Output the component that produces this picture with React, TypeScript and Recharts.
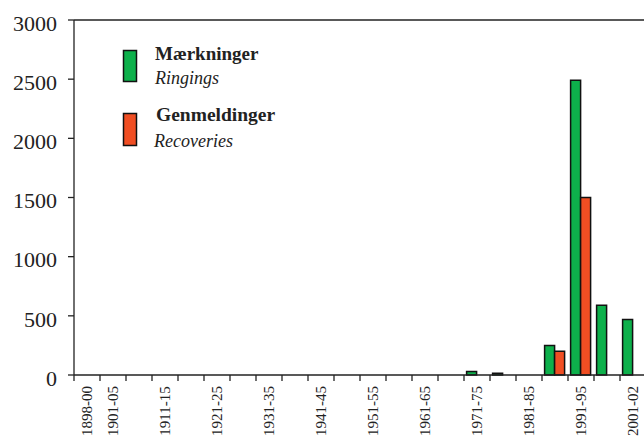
import { BarChart, Bar, XAxis, YAxis, ReferenceLine } from "recharts";

// 5-year periods, first and last are short
const periods = [
  "1898-00", "1901-05", "1906-10", "1911-15", "1916-20", "1921-25", "1926-30",
  "1931-35", "1936-40", "1941-45", "1946-50", "1951-55", "1956-60", "1961-65",
  "1966-70", "1971-75", "1976-80", "1981-85", "1986-90", "1991-95", "1996-00", "2001-02",
];
const ringings = [0, 0, 0, 0, 0, 0, 0, 0, 0, 0, 0, 0, 0, 0, 0, 30, 15, 0, 250, 2490, 590, 470];
const recoveries = [0, 0, 0, 0, 0, 0, 0, 0, 0, 0, 0, 0, 0, 0, 0, 0, 0, 0, 200, 1500, 0, 0];
const yTicks = [0, 500, 1000, 1500, 2000, 2500, 3000];

const data = periods.map((period, i) => ({ period, ringings: ringings[i], recoveries: recoveries[i] }));

const W = 660;
const H = 439;
const MARGIN = { top: 20, right: 14, bottom: 0, left: 0 };
const Y_WIDTH = 74;
const X_HEIGHT = 64;
const BAND = (W - MARGIN.left - MARGIN.right - Y_WIDTH) / periods.length;

const FONT = "Liberation Serif";
const INK = "#222";
const GREEN = "#0db04b";
const RED = "#f04e23";

function PeriodTick(props: any) {
  const { x, y, index, payload } = props;
  const showLabel = index === 0 || index % 2 === 1;
  const left = x - BAND / 2;
  return (
    <g>
      <line x1={left} y1={y} x2={left} y2={y + 6} stroke={INK} strokeWidth={1.3} />
      {index === periods.length - 1 && (
        <line x1={left + BAND} y1={y} x2={left + BAND} y2={y + 6} stroke={INK} strokeWidth={1.3} />
      )}
      {showLabel && (
        <text
          transform={`translate(${x},${y + 36}) rotate(-90)`}
          x={0}
          y={0}
          dy="0.35em"
          textAnchor="middle"
          style={{ fontFamily: FONT, fontSize: 15, fill: INK }}
        >
          {payload.value}
        </text>
      )}
    </g>
  );
}

function CountTick(props: any) {
  const { x, y, payload } = props;
  return (
    <text x={x} y={y + 3} dy="0.35em" textAnchor="end" style={{ fontFamily: FONT, fontSize: 22, fill: INK }}>
      {payload.value}
    </text>
  );
}

function LegendBox() {
  const t = { fontFamily: FONT, fontSize: 19, fill: INK };
  return (
    <svg width={300} height={160} style={{ position: "absolute", left: 0, top: 0 }}>
      <rect x={123.5} y={50.5} width={13} height={31} fill={GREEN} stroke="#111" strokeWidth={1.5} />
      <text x={155} y={60} style={{ ...t, fontWeight: "bold" }}>Mærkninger</text>
      <text x={155} y={84} style={{ ...t, fontSize: 18, fontStyle: "italic" }}>Ringings</text>
      <rect x={123.5} y={113.5} width={13} height={32} fill={RED} stroke="#111" strokeWidth={1.5} />
      <text x={156} y={121} style={{ ...t, fontSize: 19.5, fontWeight: "bold" }}>Genmeldinger</text>
      <text x={154} y={147} style={{ ...t, fontSize: 18, fontStyle: "italic" }}>Recoveries</text>
    </svg>
  );
}

export default function App() {
  return (
    <div style={{ position: "absolute", left: 0, top: 0, width: 644, height: 439, overflow: "hidden", background: "#fff" }}>
      <BarChart width={W} height={H} data={data} margin={MARGIN} barCategoryGap="10%" barGap={0}>
        <XAxis
          dataKey="period"
          height={X_HEIGHT}
          interval={0}
          tickSize={0}
          tickMargin={0}
          tickLine={false}
          axisLine={{ stroke: INK, strokeWidth: 1.3 }}
          tick={<PeriodTick />}
        />
        <YAxis
          width={Y_WIDTH}
          domain={[0, 3000]}
          ticks={yTicks}
          interval={0}
          tickSize={6}
          tickMargin={11}
          axisLine={{ stroke: INK, strokeWidth: 1.3 }}
          tickLine={{ stroke: INK, strokeWidth: 1.3 }}
          tick={<CountTick />}
        />
        <ReferenceLine y={3000} stroke={INK} strokeWidth={1.3} />
        <Bar dataKey="ringings" name="Mærkninger" fill={GREEN} stroke="#111" strokeWidth={1.5} isAnimationActive={false} />
        <Bar dataKey="recoveries" name="Genmeldinger" fill={RED} stroke="#111" strokeWidth={1.5} isAnimationActive={false} />
      </BarChart>
      <LegendBox />
    </div>
  );
}
